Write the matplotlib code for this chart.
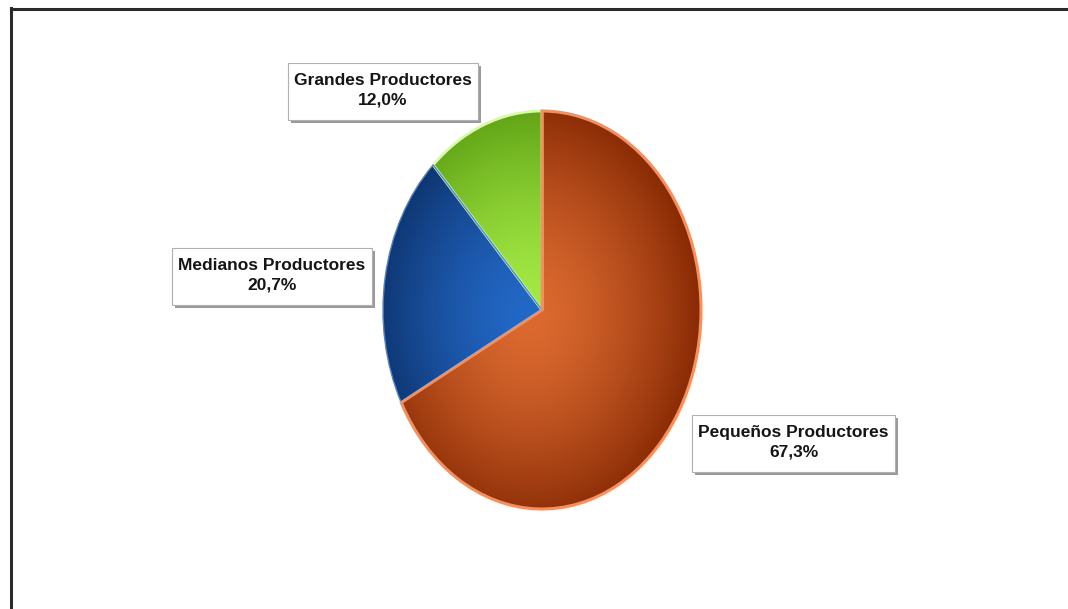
import numpy as np
import matplotlib
matplotlib.use("Agg")
import matplotlib.pyplot as plt
from matplotlib.patches import Rectangle
from matplotlib.colors import LinearSegmentedColormap
from matplotlib import font_manager

categories = ["Grandes Productores", "Medianos Productores", "Pequeños Productores"]
values = [12.0, 20.7, 67.3]

W, H = 1068, 609
fig = plt.figure(figsize=(W / 100, H / 100), dpi=100)
fig.patch.set_facecolor("white")

names = {f.name for f in font_manager.fontManager.ttflist}
FONT = "Liberation Sans Narrow" if "Liberation Sans Narrow" in names else "Liberation Sans"

# frame lines (left and top)
fig.add_artist(plt.Line2D([10.5 / W, 10.5 / W], [0, 1 - 8 / H], transform=fig.transFigure,
                          color="#2a2a2a", lw=2.2))
fig.add_artist(plt.Line2D([10.5 / W, 1], [1 - 8.5 / H, 1 - 8.5 / H], transform=fig.transFigure,
                          color="#2a2a2a", lw=2.2))

cx, cy, rx, ry = 542, 310, 159, 199
ax = fig.add_axes([(cx - rx) / W, 1 - (cy + ry) / H, 2 * rx / W, 2 * ry / H])
ax.set_axis_off()

center_cols = ["#A4EA45", "#2268C6", "#DC6A30"]
edge_cols = ["#5C9E12", "#0B2C62", "#882A04"]
line_cols = ["#D4FF9A", "#4A86D0", "#F39060"]
line_w = [2.0, 1.0, 2.2]

wedges, _ = ax.pie(values, startangle=90, counterclock=True, radius=1.0,
                   wedgeprops=dict(linewidth=0))
ax.set_aspect("auto")
ax.set_xlim(-1.0, 1.0)
ax.set_ylim(-1.0, 1.0)

n = 400
xs = np.linspace(-1.0, 1.0, n)
X, Y = np.meshgrid(xs, xs)
R = np.sqrt((X + 0.08) ** 2 + (Y + 0.02) ** 2) / 1.08
R = np.clip(R, 0, 1) ** 1.5
for w, c0, c1, lc, lw in zip(wedges, center_cols, edge_cols, line_cols, line_w):
    cmap = LinearSegmentedColormap.from_list("g", [c0, c1])
    im = ax.imshow(R, cmap=cmap, vmin=0, vmax=1, extent=(-1.0, 1.0, -1.0, 1.0),
                   origin="lower", aspect="auto", zorder=1)
    im.set_clip_path(w)
    w.set_facecolor("none")
    w.set_edgecolor(lc)
    w.set_linewidth(lw)
    w.set_zorder(2)

# label boxes (pixel positions: left, top, right, bottom)
boxes = [(288, 63, 478, 120), (172, 248, 372, 305), (692, 415, 895, 472)]
for name, val, (l, t, r, b) in zip(categories, values, boxes):
    sh = Rectangle(((l + 3) / W, 1 - (b + 3) / H), (r - l) / W, (b - t) / H,
                   transform=fig.transFigure, facecolor="#9a9a9a", edgecolor="none", zorder=5)
    fig.add_artist(sh)
    rect = Rectangle((l / W, 1 - b / H), (r - l) / W, (b - t) / H,
                     transform=fig.transFigure, facecolor="white", edgecolor="#b0b0b0",
                     lw=0.8, zorder=6)
    fig.add_artist(rect)
    label = f"{name}\n{val:.1f}%".replace(".", ",")
    fig.text((l + r) / 2 / W, 1 - (t + b) / 2 / H + 1 / H, label, ha="center", va="center",
             fontsize=12.5, fontweight="bold", family=FONT, color="#151515",
             linespacing=1.4, zorder=7)

fig.savefig("out.png", dpi=100, facecolor="white")
